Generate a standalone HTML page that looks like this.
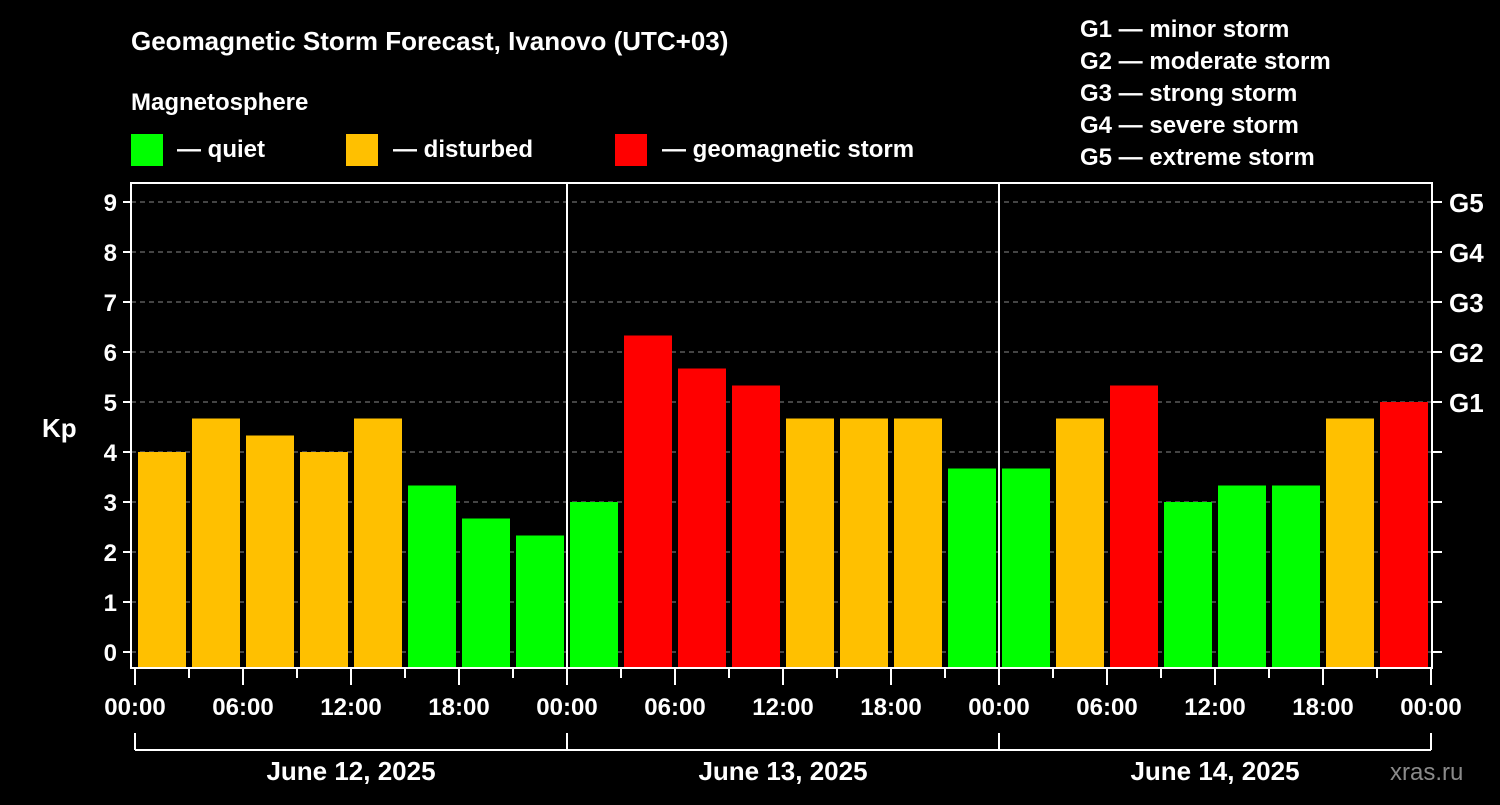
<!DOCTYPE html>
<html><head><meta charset="utf-8"><style>
body{margin:0;background:#000;width:1500px;height:800px;overflow:hidden;font-family:"Liberation Sans",Arial,sans-serif}
svg text{font-family:"Liberation Sans",Arial,sans-serif;font-weight:bold;fill:#fff}
</style></head><body>
<svg id="c" width="1500" height="800">
<text x="131" y="50" font-size="26">Geomagnetic Storm Forecast, Ivanovo (UTC+03)</text>
<text x="131" y="110" font-size="24">Magnetosphere</text>
<g><rect x="131" y="134" width="32" height="32" fill="#00ff00"/><text x="177" y="157" font-size="24">— quiet</text></g>
<g><rect x="346" y="134" width="32" height="32" fill="#ffc000"/><text x="393" y="157" font-size="24">— disturbed</text></g>
<g><rect x="615" y="134" width="32" height="32" fill="#ff0000"/><text x="662" y="157" font-size="24">— geomagnetic storm</text></g>
<g font-size="24">
<text x="1080" y="37">G1 — minor storm</text><text x="1080" y="69">G2 — moderate storm</text><text x="1080" y="101">G3 — strong storm</text><text x="1080" y="133">G4 — severe storm</text><text x="1080" y="165">G5 — extreme storm</text></g>
<text x="42" y="437" font-size="26">Kp</text>
<text x="1390" y="780" font-size="24" fill="#888" style="fill:#8a8a8a;font-weight:normal">xras.ru</text>
<g id="grid"></g><g id="bars"></g><g id="axes"></g>
</svg>
<script>
const kpValues=[4.0,4.67,4.33,4.0,4.67,3.33,2.67,2.33, 3.0,6.33,5.67,5.33,4.67,4.67,4.67,3.67, 3.67,4.67,5.33,3.0,3.33,3.33,4.67,5.0];
const dayLabels=["June 12, 2025","June 13, 2025","June 14, 2025"];
const hourLabels=["00:00","06:00","12:00","18:00"];
const yTicks=[0,1,2,3,4,5,6,7,8,9];
const gLabels=[[5,"G1"],[6,"G2"],[7,"G3"],[8,"G4"],[9,"G5"]];
const NS="http://www.w3.org/2000/svg";
const L=131,R=1432,T=183,B=668,X0=135,SLOT=54;
const y=v=>652-v*50;
const x=i=>X0+i*SLOT;
function mk(t,a,p){const e=document.createElementNS(NS,t);for(const k in a)e.setAttribute(k,a[k]);p.appendChild(e);return e;}
const grid=document.getElementById('grid'),bars=document.getElementById('bars'),axes=document.getElementById('axes');
yTicks.forEach(v=>{
 const g=mk('line',{x1:L,x2:R,y1:y(v),y2:y(v),stroke:'#888','stroke-dasharray':'5,4','stroke-width':1},grid);
 
 mk('line',{x1:L-8,x2:L,y1:y(v),y2:y(v),stroke:'#fff','stroke-width':2},axes);
 mk('line',{x1:R,x2:R+10,y1:y(v),y2:y(v),stroke:'#fff','stroke-width':2},axes);
 const t=mk('text',{x:L-14,y:y(v)+9,'font-size':24,'text-anchor':'end'},axes);t.textContent=v;
 
});
gLabels.forEach(([v,s])=>{const t=mk('text',{x:1449,y:y(v)+10,'font-size':26},axes);t.textContent=s;
 });
kpValues.forEach((v,i)=>{
 const c=v>=5?'#ff0000':v>=4?'#ffc000':'#00ff00';
 const r=mk('rect',{x:x(i)+3,y:y(v),width:48,height:B-y(v),fill:c},bars);
 
});
mk('rect',{x:L,y:T,width:R-L,height:B-T,fill:'none',stroke:'#fff','stroke-width':2},axes);
[1,2].forEach(d=>mk('line',{x1:x(d*8),x2:x(d*8),y1:T,y2:B,stroke:'#fff','stroke-width':2},axes));
for(let i=0;i<=24;i++){
 const major=i%2==0;
 mk('line',{x1:x(i),x2:x(i),y1:B,y2:B+(major?17:10),stroke:'#fff','stroke-width':2},axes);
 if(major){const t=mk('text',{x:x(i),y:715,'font-size':24,'text-anchor':'middle'},axes);t.textContent=hourLabels[(i/2)%4];
  }
}
mk('line',{x1:x(0),x2:x(24),y1:750,y2:750,stroke:'#fff','stroke-width':2},axes);
for(let d=0;d<=3;d++)mk('line',{x1:x(d*8),x2:x(d*8),y1:733,y2:750,stroke:'#fff','stroke-width':2},axes);
dayLabels.forEach((s,d)=>{const t=mk('text',{x:x(d*8+4),y:780,'font-size':26,'text-anchor':'middle'},axes);t.textContent=s;
 });
</script>
</body></html>
